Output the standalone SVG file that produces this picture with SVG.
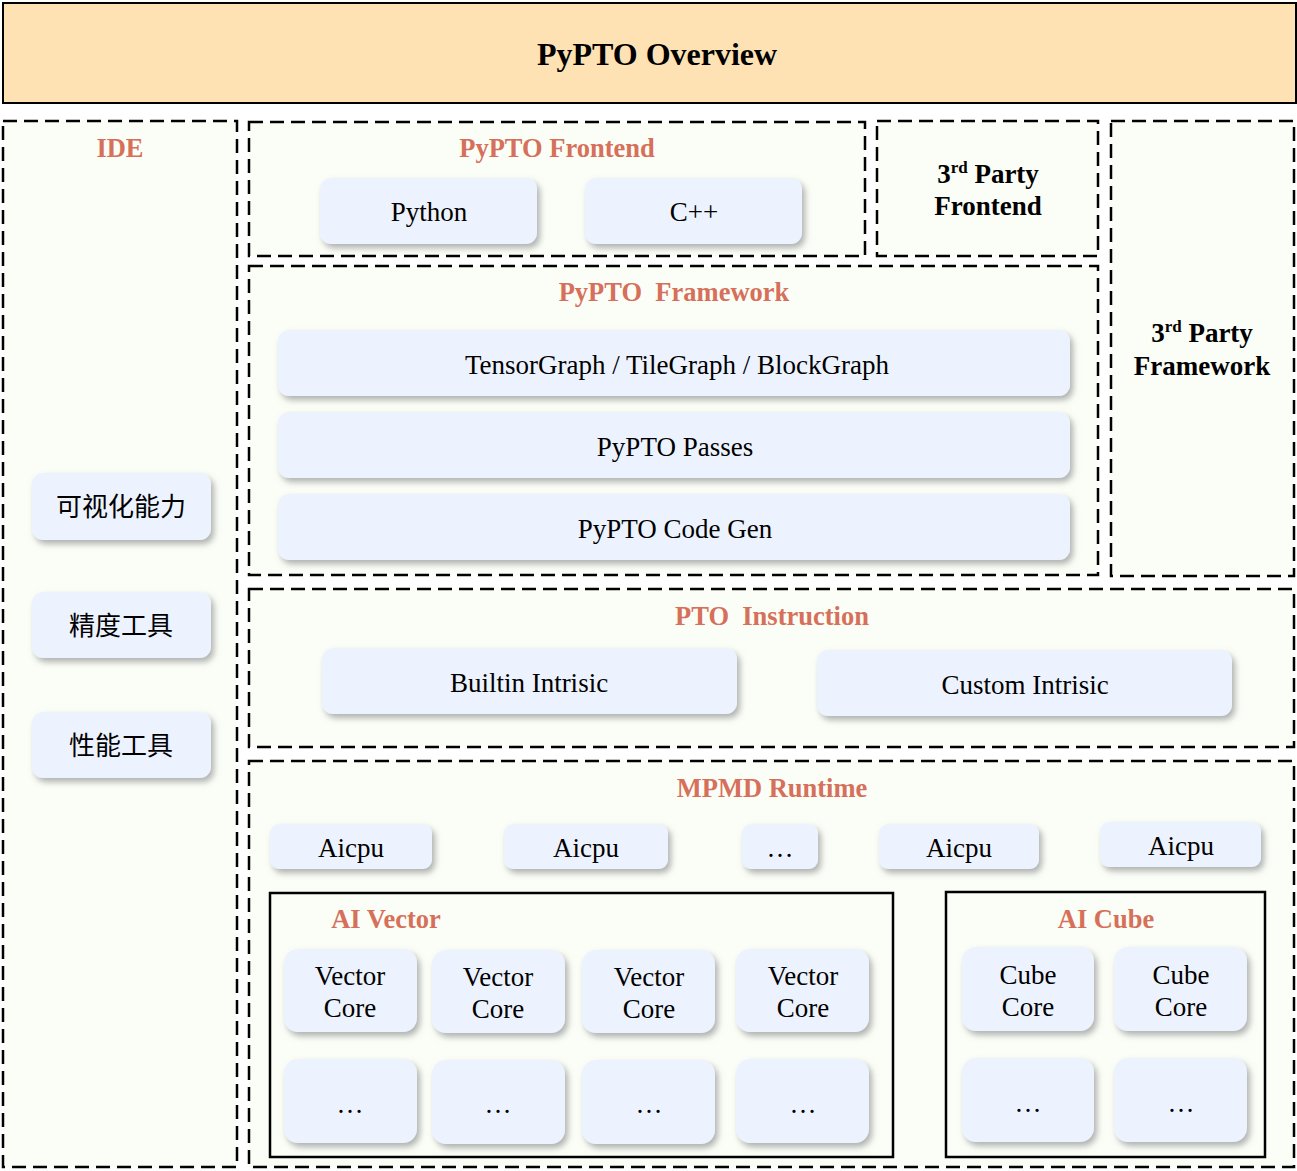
<svg xmlns="http://www.w3.org/2000/svg" width="1297" height="1171" viewBox="0 0 1297 1171">
<defs>
<filter id="sh" x="-20%" y="-30%" width="140%" height="170%">
<feDropShadow dx="3" dy="4" stdDeviation="3" flood-color="#7a7f80" flood-opacity="0.6"/>
</filter>
<style>
.sec{fill:#FBFEF6;stroke:#000;stroke-width:2.5;stroke-dasharray:14 7}
.box{fill:#FBFEF6;stroke:#000;stroke-width:2.5}
.n{fill:#EDF3FE;filter:url(#sh)}
.t{font-family:"Liberation Serif","Times New Roman",serif;font-size:27px;fill:#000;text-anchor:middle}
.h{font-family:"Liberation Serif","Times New Roman",serif;font-size:26.5px;font-weight:bold;fill:#D6705A;text-anchor:middle;white-space:pre}
.b{font-family:"Liberation Serif","Times New Roman",serif;font-size:27px;font-weight:bold;fill:#000;text-anchor:middle}
.c{font-family:"Noto Sans CJK SC","Noto Sans",sans-serif;font-size:26px;fill:#000;text-anchor:middle}
</style>
</defs>
<rect width="1297" height="1171" fill="#fff"/>
<g id="header">
<rect x="3" y="3" width="1293" height="100" fill="#FFE2B4" stroke="#000" stroke-width="2"/>
<text x="657" y="65" class="b" style="font-size:32px">PyPTO Overview</text>
</g>
<g id="ide">
<rect x="3" y="121" width="234" height="1046" class="sec"/>
<text x="120" y="157" class="h">IDE</text>
<g id="vis"><rect x="32" y="473" width="179" height="67" rx="11" class="n"/><text x="121" y="516" class="c">可视化能力</text></g>
<g id="acc"><rect x="32" y="592" width="179" height="66" rx="11" class="n"/><text x="121" y="635" class="c">精度工具</text></g>
<g id="perf"><rect x="32" y="712" width="179" height="66" rx="11" class="n"/><text x="121" y="755" class="c">性能工具</text></g>
</g>
<g id="frontend">
<rect x="249" y="122" width="616" height="134" class="sec"/>
<text x="557" y="157" class="h">PyPTO Frontend</text>
<g id="python"><rect x="320" y="178" width="217" height="66" rx="11" class="n"/><text x="429" y="221" class="t">Python</text></g>
<g id="cpp"><rect x="585" y="178" width="217" height="66" rx="11" class="n"/><text x="694" y="221" class="t">C++</text></g>
</g>
<g id="third-frontend">
<rect x="877" y="121" width="221" height="135" class="sec"/>
<text x="988" y="183" class="b">3<tspan font-size="17" dy="-10">rd</tspan><tspan dy="10"> Party</tspan></text>
<text x="988" y="215" class="b">Frontend</text>
</g>
<g id="third-framework">
<rect x="1111" y="121" width="183" height="455" class="sec"/>
<text x="1202" y="342" class="b">3<tspan font-size="17" dy="-10">rd</tspan><tspan dy="10"> Party</tspan></text>
<text x="1202" y="375" class="b">Framework</text>
</g>
<g id="framework">
<rect x="249" y="266" width="849" height="309" class="sec"/>
<text x="674" y="301" class="h">PyPTO  Framework</text>
<g id="graph"><rect x="278" y="330" width="792" height="66" rx="11" class="n"/><text x="677" y="374" class="t">TensorGraph / TileGraph / BlockGraph</text></g>
<g id="passes"><rect x="278" y="412" width="792" height="66" rx="11" class="n"/><text x="675" y="456" class="t">PyPTO Passes</text></g>
<g id="codegen"><rect x="278" y="494" width="792" height="66" rx="11" class="n"/><text x="675" y="538" class="t">PyPTO Code Gen</text></g>
</g>
<g id="instruction">
<rect x="249" y="589" width="1045" height="158" class="sec"/>
<text x="772" y="625" class="h">PTO  Instruction</text>
<g id="builtin"><rect x="322" y="648" width="415" height="66" rx="11" class="n"/><text x="529" y="692" class="t">Builtin Intrisic</text></g>
<g id="custom"><rect x="817" y="650" width="415" height="66" rx="11" class="n"/><text x="1025" y="694" class="t">Custom Intrisic</text></g>
</g>
<g id="runtime">
<rect x="249" y="761" width="1045" height="406" class="sec"/>
<text x="772" y="797" class="h">MPMD Runtime</text>
<g id="aicpu1"><rect x="270" y="824" width="162" height="45" rx="9" class="n"/><text x="351" y="857" class="t">Aicpu</text></g>
<g id="aicpu2"><rect x="504" y="824" width="164" height="45" rx="9" class="n"/><text x="586" y="857" class="t">Aicpu</text></g>
<g id="aicpu-more"><rect x="742" y="824" width="76" height="45" rx="9" class="n"/><text x="780" y="857" class="t">…</text></g>
<g id="aicpu3"><rect x="879" y="824" width="160" height="45" rx="9" class="n"/><text x="959" y="857" class="t">Aicpu</text></g>
<g id="aicpu4"><rect x="1100" y="822" width="161" height="45" rx="9" class="n"/><text x="1181" y="855" class="t">Aicpu</text></g>
<g id="ai-vector">
<rect x="270" y="893" width="623" height="264" class="box"/>
<text x="386" y="928" class="h">AI Vector</text>
<g id="vc1"><rect x="284" y="949" width="133" height="83" rx="14" class="n"/><text class="t"><tspan x="350" y="985">Vector</tspan><tspan x="350" y="1017">Core</tspan></text></g>
<g id="vc2"><rect x="432" y="950" width="133" height="83" rx="14" class="n"/><text class="t"><tspan x="498" y="986">Vector</tspan><tspan x="498" y="1018">Core</tspan></text></g>
<g id="vc3"><rect x="582" y="950" width="133" height="83" rx="14" class="n"/><text class="t"><tspan x="649" y="986">Vector</tspan><tspan x="649" y="1018">Core</tspan></text></g>
<g id="vc4"><rect x="736" y="949" width="133" height="83" rx="14" class="n"/><text class="t"><tspan x="803" y="985">Vector</tspan><tspan x="803" y="1017">Core</tspan></text></g>
<g id="vm1"><rect x="284" y="1059" width="133" height="84" rx="14" class="n"/><text x="350" y="1113" class="t">…</text></g>
<g id="vm2"><rect x="432" y="1060" width="133" height="84" rx="14" class="n"/><text x="498" y="1113" class="t">…</text></g>
<g id="vm3"><rect x="582" y="1060" width="133" height="84" rx="14" class="n"/><text x="649" y="1113" class="t">…</text></g>
<g id="vm4"><rect x="736" y="1059" width="133" height="84" rx="14" class="n"/><text x="803" y="1113" class="t">…</text></g>
</g>
<g id="ai-cube">
<rect x="946" y="892" width="319" height="265" class="box"/>
<text x="1106" y="928" class="h">AI Cube</text>
<g id="cc1"><rect x="962" y="947" width="132" height="84" rx="14" class="n"/><text class="t"><tspan x="1028" y="984">Cube</tspan><tspan x="1028" y="1016">Core</tspan></text></g>
<g id="cc2"><rect x="1114" y="947" width="133" height="84" rx="14" class="n"/><text class="t"><tspan x="1181" y="984">Cube</tspan><tspan x="1181" y="1016">Core</tspan></text></g>
<g id="cm1"><rect x="962" y="1058" width="132" height="84" rx="14" class="n"/><text x="1028" y="1112" class="t">…</text></g>
<g id="cm2"><rect x="1114" y="1058" width="133" height="84" rx="14" class="n"/><text x="1181" y="1112" class="t">…</text></g>
</g>
</g>
<g id="connectors"></g>
</svg>
